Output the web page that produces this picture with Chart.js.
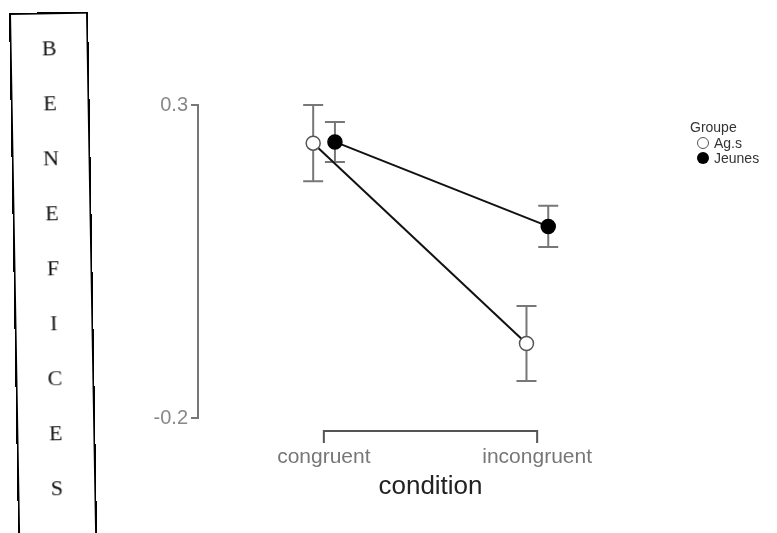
<!DOCTYPE html>
<html>
<head>
<meta charset="utf-8">
<script src="https://cdn.jsdelivr.net/npm/chart.js@4/dist/chart.umd.min.js"></script>
<style>
html,body{margin:0;padding:0;background:#fff;width:777px;height:533px;overflow:hidden;}
#wrap{position:relative;width:777px;height:533px;}
#c{position:absolute;left:0;top:0;}
#box{position:absolute;left:9px;top:13px;width:79px;height:560px;border:2px solid #000;transform:rotate(-1deg);transform-origin:0 0;box-sizing:border-box;}
#box span{position:absolute;left:0;width:100%;text-align:center;font-family:"Liberation Serif","DejaVu Serif",serif;font-size:22px;color:#111;line-height:22px;}
#legend{position:absolute;left:690px;top:119px;font-family:"Liberation Sans",Arial,sans-serif;color:#333;font-size:14px;}
#legend .t{position:absolute;left:0;top:0;white-space:nowrap;}
#legend .row{position:absolute;left:7px;white-space:nowrap;}
#legend .dot{display:inline-block;width:12px;height:12px;border-radius:50%;box-sizing:border-box;vertical-align:-1px;margin-right:5px;}
</style>
</head>
<body>
<div id="wrap">
  <canvas id="c" width="777" height="533"></canvas>
  <div id="box"></div>
  <div id="legend"></div>
</div>
<script>
// ---- data ----
const categories = ['congruent', 'incongruent'];
const groups = ['Ag.s', 'Jeunes'];
const agsMean = [0.239, -0.081];
const agsErr = [0.061, 0.060];
const jeunesMean = [0.241, 0.106];
const jeunesErr = [0.032, 0.033];
const yTicks = [-0.2, 0.3];
const sideLetters = ['B','E','N','E','F','I','C','E','S'];
const xAxisTitle = 'condition';
const legendTitle = 'Groupe';

// ---- style constants ----
const dodge = [-0.05, 0.052];
const capHalf = 10;

// side box letters
const box = document.getElementById('box');
sideLetters.forEach((ch, i) => {
  const s = document.createElement('span');
  s.textContent = ch;
  s.style.top = (23 + i * 55) + 'px';
  box.appendChild(s);
});

// legend
const lg = document.getElementById('legend');
const lt = document.createElement('div'); lt.className = 't'; lt.textContent = legendTitle; lg.appendChild(lt);
groups.forEach((g, i) => {
  const r = document.createElement('div'); r.className = 'row';
  r.style.top = (16 + i * 15) + 'px';
  const d = document.createElement('span'); d.className = 'dot';
  if (i === 0) { d.style.border = '1.5px solid #555'; d.style.background = '#fff'; }
  else { d.style.background = '#000'; }
  r.appendChild(d);
  r.appendChild(document.createTextNode(g));
  lg.appendChild(r);
});

const means = [agsMean, jeunesMean];
const errs = [agsErr, jeunesErr];

const datasets = groups.map((g, gi) => ({
  label: g,
  data: categories.map((c, ci) => ({ x: ci + 1 + dodge[gi], y: means[gi][ci], e: errs[gi][ci] })),
  showLine: true,
  borderColor: '#111',
  borderWidth: 2,
  pointRadius: 7,
  pointHoverRadius: 7,
  pointBackgroundColor: gi === 0 ? '#fff' : '#000',
  pointBorderColor: gi === 0 ? '#555' : '#000',
  pointBorderWidth: 1.5,
  clip: false
}));

const errorBars = {
  id: 'errorBars',
  beforeDatasetsDraw(chart) {
    const { ctx, scales: { x, y } } = chart;
    ctx.save();
    ctx.strokeStyle = '#777';
    ctx.lineWidth = 2;
    chart.data.datasets.forEach(ds => {
      ds.data.forEach(p => {
        const px = x.getPixelForValue(p.x);
        const t = y.getPixelForValue(p.y + p.e);
        const b = y.getPixelForValue(p.y - p.e);
        ctx.beginPath();
        ctx.moveTo(px, t); ctx.lineTo(px, b);
        ctx.moveTo(px - capHalf, t); ctx.lineTo(px + capHalf, t);
        ctx.moveTo(px - capHalf, b); ctx.lineTo(px + capHalf, b);
        ctx.stroke();
      });
    });
    ctx.restore();
  }
};

const xFrame = {
  id: 'xFrame',
  afterDraw(chart) {
    const { ctx, scales: { x }, chartArea } = chart;
    const yy = chartArea.bottom + 13;
    const x1 = x.getPixelForValue(1), x2 = x.getPixelForValue(categories.length);
    ctx.save();
    ctx.strokeStyle = '#555';
    ctx.lineWidth = 2;
    ctx.beginPath();
    ctx.moveTo(x1, yy + 12); ctx.lineTo(x1, yy); ctx.lineTo(x2, yy); ctx.lineTo(x2, yy + 12);
    ctx.stroke();
    ctx.restore();
  }
};

new Chart(document.getElementById('c'), {
  type: 'scatter',
  data: { datasets },
  plugins: [errorBars, xFrame],
  options: {
    responsive: false,
    animation: false,
    layout: { padding: { left: 0, top: 105, right: 114, bottom: 0 } },
    plugins: { legend: { display: false }, tooltip: { enabled: false } },
    scales: {
      x: {
        type: 'linear', min: 0.41, max: 2.59,
        afterBuildTicks: s => { s.ticks = categories.map((c, i) => ({ value: i + 1 })); },
        afterFit: s => { s.height = 115; },
        grid: { display: false, drawTicks: false },
        border: { display: false },
        ticks: {
          padding: 27,
          color: '#777',
          font: { family: 'Liberation Sans', size: 21 },
          callback: v => categories[Math.round(v) - 1]
        },
        title: {
          display: true, text: xAxisTitle, color: '#222',
          font: { family: 'Liberation Sans', size: 26 },
          padding: { top: 0, bottom: 31 }
        }
      },
      y: {
        min: yTicks[0], max: yTicks[yTicks.length - 1],
        afterBuildTicks: s => { s.ticks = yTicks.map(v => ({ value: v })); },
        afterFit: s => { s.width = 198; },
        grid: { drawOnChartArea: false, drawTicks: true, tickLength: 7, color: '#777', lineWidth: 2 },
        border: { display: true, color: '#777', width: 2 },
        ticks: {
          padding: 3,
          color: '#888',
          font: { family: 'Liberation Sans', size: 20 },
          callback: v => v.toFixed(1)
        }
      }
    }
  }
});
</script>
</body>
</html>
